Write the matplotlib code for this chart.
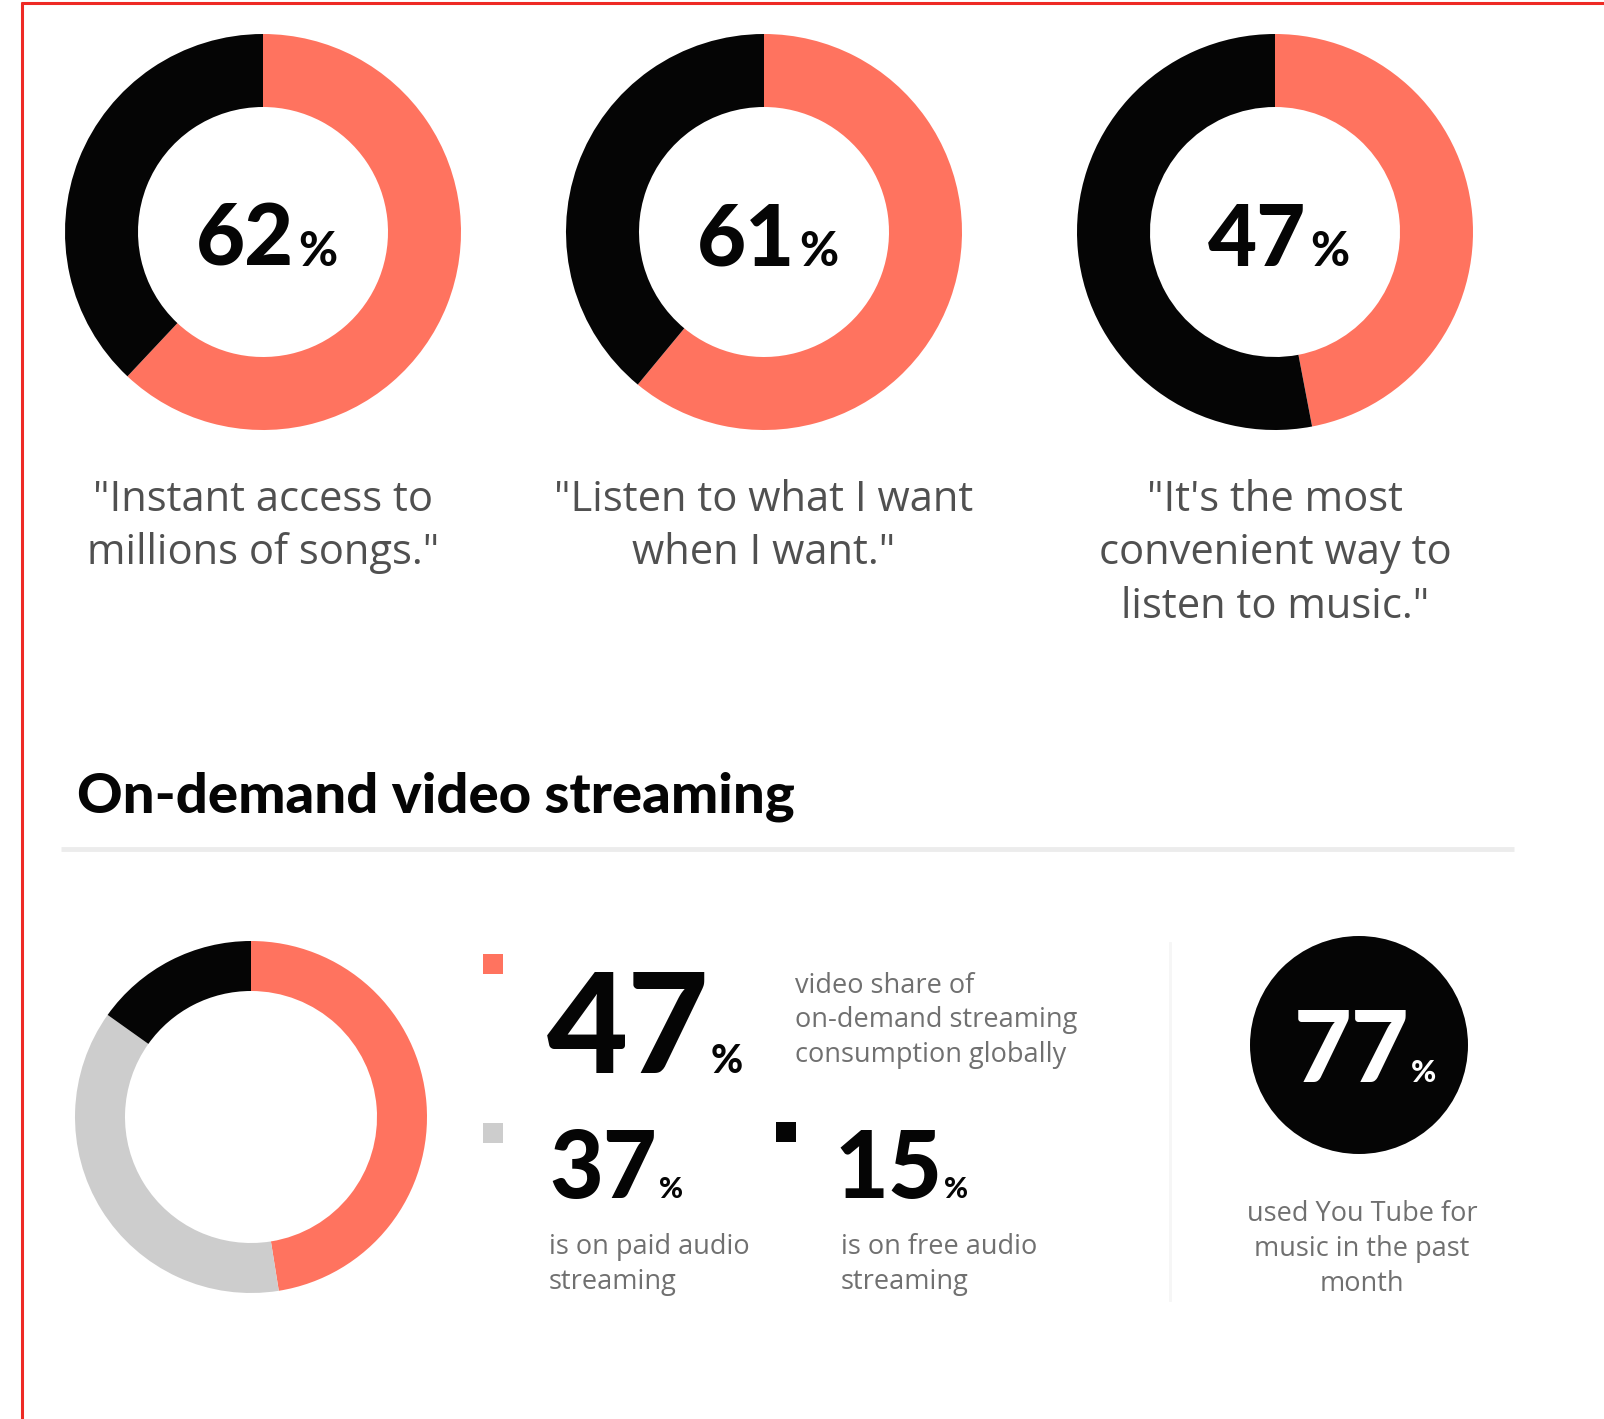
import matplotlib.pyplot as plt
from matplotlib.patches import Circle, Rectangle

# survey numbers
top_values = [62, 61, 47]
top_quotes = [
    ['"Instant access to', 'millions of songs."'],
    ['"Listen to what I want', 'when I want."'],
    ['"It\'s the most', 'convenient way to', 'listen to music."'],
]
section_title = "On-demand video streaming"
stream_labels = ["video", "paid audio", "free audio"]
stream_shares = [47, 37, 15]
stream_texts = [
    ["video share of", "on-demand streaming", "consumption globally"],
    ["is on paid audio", "streaming"],
    ["is on free audio", "streaming"],
]
youtube_share = 77
youtube_text = ["used You Tube for", "music in the past", "month"]

CORAL = "#ff735f"
BLACK = "#050505"
GREY = "#cdcdcd"
TEXT = "#505050"
SMALL = "#707070"
W, H = 1604, 1419

plt.rcParams['font.family'] = ['Lato', 'DejaVu Sans']
BODY = ['Open Sans', 'DejaVu Sans']

fig = plt.figure(figsize=(W / 100, H / 100), dpi=100)
ax = fig.add_axes([0, 0, 1, 1])


def Y(py):
    # layout measured from the top edge
    return H - py


def num_pct(x, base, num, size, psize, color, ha='left', gap=4):
    t1 = ax.text(0, Y(base), str(num), fontsize=size, fontweight='black',
                 color=color, va='baseline', ha='left')
    t2 = ax.text(0, Y(base), '%', fontsize=psize, fontweight='black',
                 color=color, va='baseline', ha='left')
    r = fig.canvas.get_renderer()
    w1 = t1.get_window_extent(r).width
    w2 = t2.get_window_extent(r).width
    x0 = x - (w1 + gap + w2) / 2 if ha == 'center' else x
    t1.set_x(x0)
    t2.set_x(x0 + w1 + gap)


# top row of donuts
top_cx = [263, 764, 1275]
for cx, v, quote in zip(top_cx, top_values, top_quotes):
    ax.pie([v, 100 - v], colors=[CORAL, BLACK], startangle=90, counterclock=False,
           radius=198, center=(cx, Y(232)), wedgeprops=dict(width=73, linewidth=0))
    num_pct(cx + 4, 266, v, 61, 34, BLACK, ha='center')
    for i, line in enumerate(quote):
        ax.text(cx, Y(500 + 53.5 * i), line, fontsize=30, color=TEXT,
                family=BODY, ha='center', va='center')

# section heading and rule
ax.text(77, Y(813), section_title, fontsize=40.5, fontweight='black', color=BLACK,
        ha='left', va='baseline')
ax.plot([61, 1514], [Y(849), Y(849)], color="#ececec", lw=3.5, solid_capstyle='butt')
ax.plot([1170, 1170], [Y(943), Y(1300)], color="#f6f6f6", lw=2)

# video vs audio donut
ax.pie(stream_shares, colors=[CORAL, GREY, BLACK], startangle=90, counterclock=False,
       radius=176, center=(251, Y(1117)), wedgeprops=dict(width=50, linewidth=0))

# legend squares with the big numbers
sq = [(493, 964), (493, 1133), (786, 1132)]
for (sx, sy), c in zip(sq, [CORAL, GREY, BLACK]):
    ax.add_patch(Rectangle((sx - 10, Y(sy) - 10), 20, 20, color=c, lw=0))

num_pct(547, 1073, stream_shares[0], 101, 28, BLACK, gap=1)
for i, line in enumerate(stream_texts[0]):
    ax.text(795, Y(986 + 34.5 * i), line, fontsize=19.5, color=SMALL,
            family=BODY, ha='left', va='center')

for x, v, lines in zip([549, 834], stream_shares[1:], stream_texts[1:]):
    num_pct(x, 1198, v, 67, 21, BLACK, gap=2)
    for i, line in enumerate(lines):
        ax.text(x + (7 if x > 800 else 0), Y(1247 + 35 * i), line, fontsize=19.5,
                color=SMALL, family=BODY, ha='left', va='center')

# YouTube badge
ax.add_patch(Circle((1359, Y(1045)), 109, color=BLACK, lw=0))
num_pct(1365, 1082, youtube_share, 72, 22, "white", ha='center', gap=2)
for i, line in enumerate(youtube_text):
    ax.text(1362, Y(1214 + 35 * i), line, fontsize=19.5, color=SMALL,
            family=BODY, ha='center', va='center')

# frame lines on top and left
ax.plot([21, W], [Y(3), Y(3)], color="#ee2a24", lw=2.2, solid_capstyle='butt')
ax.plot([22, 22], [Y(2), 0], color="#ee2a24", lw=2.2, solid_capstyle='butt')

ax.set_xlim(0, W)
ax.set_ylim(0, H)
ax.set_aspect('auto')
ax.axis('off')

fig.savefig("out.png", dpi=100, facecolor="white")
